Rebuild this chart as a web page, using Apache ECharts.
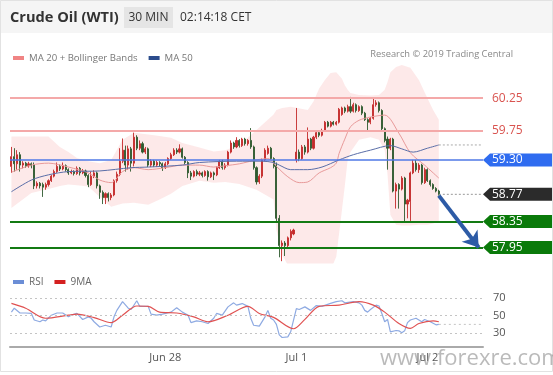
<!DOCTYPE html>
<html><head><meta charset="utf-8">
<script src="https://cdn.jsdelivr.net/npm/echarts@6/dist/echarts.min.js"></script>
<style>html,body{margin:0;padding:0;background:#fff}#c{width:553px;height:375px}</style>
</head><body><div id="c"></div><script>
// ---- categories (30 min bars, CET) ----
const sessions = [['Jun 26', 38, 8], ['Jun 27', 0, 46], ['Jun 28', 0, 46], ['Jul 1', 0, 46], ['Jul 2', 0, 20]];
const xTickLabels = ['Jun 28', 'Jul 1', 'Jul 2'];

// ---- candles [open, close, low, high] ----
const candles = [
[59.20,59.35,59.10,59.50],[59.35,59.24,59.12,59.48],[59.24,59.38,59.15,59.45],[59.38,59.22,59.12,59.42],
[59.22,59.25,59.17,59.28],[59.25,59.21,59.18,59.27],[59.21,59.24,59.18,59.27],[59.24,59.21,59.17,59.26],
[59.22,58.90,58.85,59.26],[58.90,58.94,58.86,58.97],[58.94,58.90,58.86,58.96],[58.92,58.88,58.73,58.95],
[58.88,58.92,58.84,58.95],[58.92,58.98,58.89,59.00],[58.98,59.05,58.96,59.07],[59.05,59.12,59.03,59.15],
[59.12,59.20,59.10,59.26],[59.20,59.16,59.13,59.23],[59.16,59.21,59.14,59.26],[59.21,59.15,59.12,59.23],
[59.15,59.10,59.07,59.17],[59.10,59.12,59.08,59.15],[59.12,59.09,59.06,59.14],[59.09,59.17,59.07,59.20],
[59.17,59.10,59.06,59.19],[59.10,59.13,59.08,59.16],[59.13,59.06,59.03,59.15],[59.06,58.92,58.88,59.08],
[58.92,59.05,58.90,59.12],[59.05,59.10,59.02,59.14],[59.10,58.90,58.86,59.12],[58.90,58.80,58.70,58.92],
[58.80,58.72,58.62,58.83],[58.72,58.78,58.62,58.80],[58.78,58.72,58.66,58.80],[58.72,58.76,58.68,58.79],
[58.76,58.98,58.74,59.00],[58.98,59.08,58.95,59.12],[59.08,59.28,59.05,59.48],[59.28,59.45,59.25,59.63],
[59.45,59.22,59.12,59.52],[59.22,59.47,59.15,59.52],[59.47,59.25,59.12,59.50],[59.25,59.65,59.20,59.72],
[59.65,59.48,59.45,59.68],[59.48,59.55,59.45,59.60],[59.55,59.42,59.40,59.58],[59.42,59.47,59.39,59.50],
[59.47,59.22,59.19,59.49],[59.22,59.28,59.19,59.31],[59.28,59.22,59.19,59.30],[59.22,59.26,59.19,59.29],
[59.26,59.24,59.20,59.28],[59.24,59.18,59.13,59.26],[59.18,59.24,59.16,59.27],[59.24,59.32,59.22,59.34],
[59.32,59.38,59.30,59.41],[59.38,59.45,59.36,59.48],[59.45,59.42,59.39,59.48],[59.42,59.47,59.40,59.54],
[59.47,59.34,59.32,59.49],[59.34,59.26,59.23,59.36],[59.26,59.10,59.02,59.28],[59.10,59.05,58.99,59.13],
[59.05,59.12,59.03,59.14],[59.12,59.08,59.05,59.15],[59.08,59.10,59.05,59.13],[59.10,59.06,59.03,59.12],
[59.06,59.12,59.04,59.14],[59.12,59.04,58.98,59.14],[59.04,59.10,59.02,59.12],[59.10,59.07,58.99,59.12],
[59.07,59.18,59.05,59.20],[59.18,59.28,59.16,59.30],[59.28,59.18,59.15,59.30],[59.18,59.22,59.15,59.25],
[59.22,59.42,59.20,59.44],[59.42,59.56,59.40,59.60],[59.56,59.50,59.47,59.58],[59.50,59.60,59.48,59.65],
[59.60,59.52,59.49,59.62],[59.52,59.62,59.50,59.64],[59.62,59.55,59.52,59.64],[59.55,59.60,59.52,59.62],
[59.60,59.50,59.47,59.79],[59.50,59.18,59.15,59.52],[59.18,58.96,58.92,59.20],[58.96,59.05,58.93,59.08],
[59.05,59.30,59.02,59.32],[59.30,59.45,59.28,59.48],[59.40,59.48,59.38,59.52],[59.48,59.32,59.30,59.50],
[59.32,59.20,59.17,59.34],[59.22,58.40,58.35,59.26],[58.40,57.98,57.80,58.45],[57.98,58.02,57.74,58.06],
[58.02,57.98,57.82,58.05],[57.98,58.10,57.95,58.12],[58.10,58.20,58.06,58.23],[58.16,58.22,58.14,58.24],
[59.30,59.42,59.26,60.10],[59.42,59.32,59.28,59.46],[59.32,59.50,59.30,59.53],[59.50,59.42,59.38,59.53],
[59.42,59.62,59.40,59.80],[59.62,59.48,59.45,59.64],[59.48,59.65,59.46,59.67],[59.65,59.72,59.62,59.75],
[59.72,59.68,59.65,59.75],[59.68,59.75,59.66,59.78],[59.75,59.88,59.73,59.90],[59.88,59.82,59.80,59.90],
[59.82,59.88,59.80,59.90],[59.88,59.85,59.83,59.90],[59.85,59.88,59.83,59.90],[59.88,60.08,59.86,60.10],
[60.00,60.10,59.98,60.12],[60.10,60.05,60.02,60.12],[60.05,60.12,60.03,60.15],[60.12,60.05,60.02,60.27],
[60.05,60.15,60.03,60.18],[60.15,60.06,60.03,60.17],[60.06,60.12,60.04,60.14],[60.12,60.02,59.99,60.14],
[60.02,59.92,59.90,60.04],[59.92,59.88,59.73,59.94],[59.88,59.94,59.85,59.96],[59.94,60.15,59.92,60.24],
[60.15,60.18,60.12,60.22],[60.18,60.06,60.03,60.20],[60.06,59.78,59.75,60.08],[59.78,59.60,59.57,59.80],
[59.62,59.48,59.15,59.66],[59.48,59.62,59.45,59.64],[59.62,58.82,58.80,59.64],[58.82,58.92,58.55,58.95],
[58.92,58.85,58.55,58.94],[58.85,59.02,58.83,59.05],[59.02,58.62,58.35,59.04],[58.62,58.68,58.40,58.70],
[58.66,59.10,58.36,59.12],[59.10,59.25,59.08,59.30],[59.25,59.15,59.12,59.30],[59.15,59.22,59.10,59.25],
[59.22,58.95,58.92,59.24],[58.95,59.15,58.93,59.18],[59.15,58.98,58.96,59.17],[58.98,58.92,58.89,59.00],
[58.92,58.86,58.84,58.94],[58.86,58.82,58.80,58.88],[58.82,58.77,58.75,58.84]
];

// ---- Bollinger bands (bar index, value) ----
const bandIdx   = [0,7,13,17,20,23,27,31,35,39,43,48,52,56,60,66,71,75,80,86,92,93,95,98,104,106,108,110,112,114,116,117,118,119,122,126,129,131,132,133,135,137,140,143,146,148,150];
const bandUpper = [59.66,59.66,59.66,59.50,59.42,59.33,59.28,59.25,59.30,59.61,59.72,59.69,59.67,59.64,59.56,59.49,59.43,59.45,59.53,59.76,60.00,60.07,60.10,60.12,60.07,60.20,60.40,60.53,60.64,60.65,60.55,60.45,60.38,60.33,60.30,60.29,60.30,60.38,60.50,60.65,60.73,60.76,60.72,60.53,60.25,60.07,59.92];
const bandLower = [58.56,58.79,58.85,58.90,58.92,58.91,58.89,58.73,58.58,58.63,58.64,58.61,58.69,58.78,58.90,58.98,58.95,58.96,58.93,58.84,58.69,58.22,57.84,57.60,57.50,57.50,57.50,57.50,57.60,57.81,58.53,58.90,59.30,59.42,59.61,59.65,59.61,59.45,59.07,58.45,58.30,58.29,58.29,58.30,58.30,58.32,58.35];

// ---- MA 20 / MA 50 ----
const ma20Idx = [0,7,13,20,27,31,35,39,43,48,54,60,66,71,75,80,86,90,93,97,101,104,108,112,114,115,117,119,122,126,131,136,140,145,150];
const ma20Val = [59.11,59.22,59.25,59.19,59.10,58.99,58.95,59.12,59.18,59.15,59.18,59.22,59.22,59.19,59.21,59.24,59.30,59.32,59.20,59.04,58.95,58.96,59.10,59.18,59.25,59.40,59.62,59.81,59.91,59.96,59.99,59.71,59.41,59.22,59.02];
const ma50Idx = [0,7,13,20,31,42,48,60,66,79,88,92,94,98,104,109,115,120,126,133,137,141,146,150];
const ma50Val = [58.81,58.99,59.07,59.12,59.13,59.18,59.19,59.22,59.26,59.28,59.28,59.26,59.22,59.15,59.15,59.19,59.30,59.38,59.45,59.52,59.47,59.42,59.48,59.53];

// ---- RSI / 9MA ----
const rsiIdx = [0,1,3,5,7,8,10,11,12,14,16,18,20,21,23,25,27,28,29,31,33,35,36,37,39,41,42,44,45,48,49,51,53,56,58,60,62,63,65,67,69,71,72,74,76,78,79,81,83,84,85,87,89,90,91,92,93,94,95,97,98,100,101,103,105,107,109,112,114,116,117,120,122,123,124,125,126,128,129,130,131,132,133,135,136,137,138,139,140,142,144,145,147,149,150];
const rsiVal = [54,58.5,53,53,52.5,45,43,45,44,50.5,53,53,48.6,50.5,52.5,45.6,48.6,47,43,37,39,37,48.6,56,66,58.5,57,67,60.6,60.6,51.7,50.5,51.7,54,59,54,50.5,42,44,43,41,47,52.5,50.5,60,64.6,62,63.8,60.6,47,39,38,48.6,56,47,45,40,28,25,25.7,31.5,58,57,60,56,61.5,60.6,64,66,67,64.6,66,64.6,62,56,54,57,62,61,52.5,43,45.6,31.5,33,32.6,30.5,32.6,42,45,47,43,45.6,43,39.5,40];
const rsiMaIdx = [0,5,12,20,23,29,35,39,44,48,52,58,64,69,76,83,87,92,99,103,108,115,122,127,131,136,140,143,148,150];
const rsiMaVal = [64,58.5,47,50.5,51.7,47.8,42,50.5,61,60.6,54,53,48.6,43,50.5,60.6,52.5,48,35,45.7,60.6,62,66,62,54,41,35.4,41,44,43];
const rsiLevels = [30, 50, 70];

// ---- price levels (right-hand labels) ----
const levelValues = [60.25, 59.75, 59.30, 58.77, 58.35, 57.95];
const levelKinds  = ['res', 'res', 'ma', 'last', 'sup', 'sup'];
const forecastTarget = 57.95;

// ---- build ----
const categories = [];
sessions.forEach(([day, start, n]) => {
  for (let k = 0; k < n; k++) {
    const s = start + k, hh = String(Math.floor(s / 2)).padStart(2, '0'), mm = s % 2 ? '30' : '00';
    categories.push(day + ' ' + hh + ':' + mm);
  }
});
const lastCat = categories.length - 1;
const lastBar = candles.length - 1;
const lastClose = candles[lastBar][1];
const pairs = (idx, val) => idx.map((i, k) => [i, val[k]]);
const bandDelta = bandIdx.map((i, k) => [i, +(bandUpper[k] - bandLower[k]).toFixed(3)]);
const levelColors = {res: '#f4a9a9', ma: '#4f78e6', last: '#999', sup: '#137a13'};
const boxColors = {ma: '#2f6cf0', last: '#2b2b2b', sup: '#0a7a0a'};
const FONT = '"Open Sans", "DejaVu Sans", sans-serif';

const chart = echarts.init(document.getElementById('c'), null, {renderer: 'canvas'});
chart.setOption({
  animation: false,
  backgroundColor: '#fff',
  textStyle: {fontFamily: FONT},
  grid: [
    {left: 10, right: 70, top: 62.5, height: 200},
    {left: 10, right: 70, top: 285, height: 61.25}
  ],
  legend: [
    {left: 8, top: 48, icon: 'rect', itemWidth: 11, itemHeight: 4, itemGap: 11, selectedMode: false,
     textStyle: {color: '#777', fontSize: 9.6, fontFamily: FONT}, data: ['MA 20 + Bollinger Bands', 'MA 50']},
    {left: 8, top: 272, icon: 'rect', itemWidth: 11, itemHeight: 4, itemGap: 11, selectedMode: false,
     textStyle: {color: '#666', fontSize: 10, fontFamily: FONT}, data: ['RSI', '9MA']}
  ],
  xAxis: [
    {type: 'category', gridIndex: 0, data: categories, boundaryGap: true, show: false},
    {type: 'category', gridIndex: 1, data: categories, boundaryGap: true,
     axisLine: {lineStyle: {color: '#aaa', width: 2}}, axisTick: {show: false},
     axisLabel: {color: '#555', fontSize: 11, margin: 6, fontFamily: FONT,
       interval: (i, v) => v.endsWith(' 00:00') && xTickLabels.includes(v.slice(0, -6)),
       formatter: v => v.slice(0, -6)}}
  ],
  yAxis: [
    {type: 'value', gridIndex: 0, min: 57.72, max: 60.80, show: false},
    {type: 'value', gridIndex: 1, min: 15, max: 85, position: 'right',
     axisLine: {show: false}, axisTick: {show: false}, splitLine: {show: false},
     axisLabel: {customValues: rsiLevels, color: '#555', fontSize: 11, margin: 10, fontFamily: FONT}}
  ],
  series: [
    {name: 'bbLower', type: 'line', xAxisIndex: 0, yAxisIndex: 0, stack: 'bb', data: pairs(bandIdx, bandLower),
     symbol: 'none', lineStyle: {opacity: 0}, silent: true, z: 1},
    {name: 'bbBand', type: 'line', xAxisIndex: 0, yAxisIndex: 0, stack: 'bb', data: bandDelta,
     symbol: 'none', lineStyle: {opacity: 0}, areaStyle: {color: 'rgba(245,150,150,0.30)'}, silent: true, z: 1},
    {name: 'levels', type: 'line', xAxisIndex: 0, yAxisIndex: 0, data: [], z: 2,
     markLine: {silent: true, symbol: 'none', label: {show: false},
       data: levelValues.map((v, k) => levelKinds[k] === 'last' ? null :
         {yAxis: v, lineStyle: {color: levelColors[levelKinds[k]], width: levelKinds[k] === 'ma' ? 1.5 : 2, type: 'solid'}}).filter(Boolean)}},
    {name: 'price', type: 'candlestick', xAxisIndex: 0, yAxisIndex: 0, data: candles, barWidth: 1.6, z: 3,
     itemStyle: {color: '#c42a2a', color0: '#2f5a2f', borderColor: '#c42a2a', borderColor0: '#2f5a2f', borderWidth: 0.9}},
    {name: 'MA 20 + Bollinger Bands', type: 'line', xAxisIndex: 0, yAxisIndex: 0, data: pairs(ma20Idx, ma20Val),
     symbol: 'none', smooth: 0.3, color: '#f08484', lineStyle: {color: '#e89a9a', width: 1}, z: 4},
    {name: 'MA 50', type: 'line', xAxisIndex: 0, yAxisIndex: 0, data: pairs(ma50Idx, ma50Val),
     symbol: 'none', smooth: 0.3, color: '#2b4c8c', lineStyle: {color: '#5a6ea8', width: 1}, z: 4},
    {name: 'extMa50', type: 'line', xAxisIndex: 0, yAxisIndex: 0,
     data: [[ma50Idx[ma50Idx.length - 1], ma50Val[ma50Val.length - 1]], [lastCat, ma50Val[ma50Val.length - 1]]],
     symbol: 'none', lineStyle: {color: '#aaa', width: 1, type: [2, 2]}, z: 4},
    {name: 'extLast', type: 'line', xAxisIndex: 0, yAxisIndex: 0,
     data: [[lastBar, lastClose], [lastCat, lastClose]],
     symbol: 'none', lineStyle: {color: '#999', width: 1, type: [2, 2]}, z: 4,
     markLine: {silent: true, symbol: ['none', 'arrow'], symbolSize: 15, label: {show: false},
       lineStyle: {color: '#2d5ba6', width: 4, type: 'solid'},
       data: [[{coord: [lastBar, lastClose - 0.02]}, {coord: [lastCat - 0.6, forecastTarget]}]]}},
    {name: 'levelLabels', type: 'custom', xAxisIndex: 0, yAxisIndex: 0, clip: false, silent: true, z: 6,
     data: levelValues.map((v, k) => [lastCat, v, k]),
     renderItem: (params, api) => {
       const v = api.value(1), k = api.value(2);
       const y = api.coord([api.value(0), v])[1];
       const cs = params.coordSys, x0 = cs.x + cs.width;
       const kind = levelKinds[k], txt = v.toFixed(2);
       if (kind === 'res') {
         return {type: 'text', style: {x: x0 + 9, y: y, text: txt, fill: '#d9534f', font: '12px ' + FONT, align: 'left', verticalAlign: 'middle'}};
       }
       return {type: 'group', children: [
         {type: 'polygon', shape: {points: [[x0, y], [x0 + 7, y - 6.5], [x0 + 69, y - 6.5], [x0 + 69, y + 6.5], [x0 + 7, y + 6.5]]}, style: {fill: boxColors[kind]}},
         {type: 'text', style: {x: x0 + 9, y: y, text: txt, fill: '#fff', font: '12px ' + FONT, align: 'left', verticalAlign: 'middle'}}
       ]};
     }},
    {name: 'RSI', type: 'line', xAxisIndex: 1, yAxisIndex: 1, data: pairs(rsiIdx, rsiVal), symbol: 'none',
     color: '#6b8ed6', lineStyle: {color: '#8eaae2', width: 1.2}, z: 3,
     markLine: {silent: true, symbol: 'none', label: {show: false},
       lineStyle: {color: '#c4c4c4', width: 1, type: [2, 3]}, data: rsiLevels.map(v => ({yAxis: v}))}},
    {name: '9MA', type: 'line', xAxisIndex: 1, yAxisIndex: 1, data: pairs(rsiMaIdx, rsiMaVal), symbol: 'none', smooth: 0.3,
     color: '#d42020', lineStyle: {color: '#e05252', width: 1.2}, z: 4},
    {name: 'extRsi', type: 'line', xAxisIndex: 1, yAxisIndex: 1,
     data: [[rsiIdx[rsiIdx.length - 1], rsiVal[rsiVal.length - 1]], [lastCat, rsiVal[rsiVal.length - 1]]],
     symbol: 'none', lineStyle: {color: '#c4c4c4', width: 1, type: [2, 3]}, z: 2}
  ],
  graphic: [
    {type: 'rect', shape: {x: 0, y: 0, width: 553, height: 33}, style: {fill: '#f5f5f5'}, z: -1},
    {type: 'rect', shape: {x: 0.5, y: 0.5, width: 552, height: 371}, style: {fill: 'none', stroke: '#e2e2e2', lineWidth: 1}, z: 10},
    {type: 'text', x: 10, y: 18, style: {text: 'Crude Oil (WTI)', fill: '#333', font: 'bold 14.6px ' + FONT, verticalAlign: 'middle'}},
    {type: 'rect', shape: {x: 124, y: 7, width: 49, height: 21}, style: {fill: '#e5e5e5'}},
    {type: 'text', x: 148.5, y: 18, style: {text: '30 MIN', fill: '#333', font: '12px ' + FONT, align: 'center', verticalAlign: 'middle'}},
    {type: 'text', x: 180, y: 18, style: {text: '02:14:18 CET', fill: '#333', font: '12px ' + FONT, verticalAlign: 'middle'}},
    {type: 'text', x: 513, y: 54, style: {text: 'Research \u00a9 2019 Trading Central', fill: '#888', font: '9.3px ' + FONT, align: 'right', verticalAlign: 'middle'}},
    {type: 'text', x: 380, y: 359, style: {text: 'www.forexre.com', fill: 'rgba(140,140,140,0.6)', font: '22px ' + FONT, verticalAlign: 'middle'}, z: 20}
  ]
});
</script></body></html>
